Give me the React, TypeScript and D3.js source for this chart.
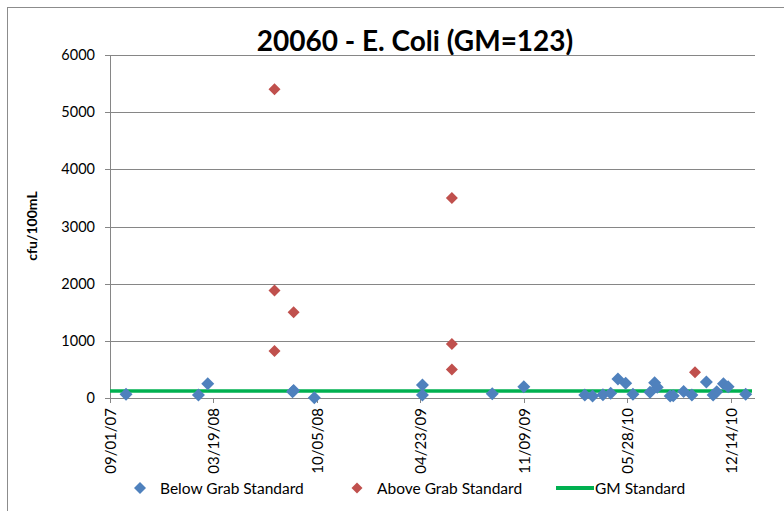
import React, { useEffect } from "react";
import * as d3 from "d3";

const belowDates = [
  "2007-10-02", "2008-02-19", "2008-03-08", "2008-08-21", "2008-08-19", "2008-09-30",
  "2009-04-27", "2009-04-27", "2009-09-09", "2009-11-09",
  "2010-03-07", "2010-03-22", "2010-04-11", "2010-04-26", "2010-05-10", "2010-05-25",
  "2010-06-08", "2010-07-11", "2010-07-20", "2010-07-25", "2010-08-19", "2010-08-25",
  "2010-09-14", "2010-09-30", "2010-10-28", "2010-11-10", "2010-11-17", "2010-11-30",
  "2010-12-09", "2011-01-12",
];
const belowValues = [
  65, 52, 250, 130, 110, 5,
  227, 52, 75, 198,
  52, 35, 58, 82, 332, 257,
  65, 100, 268, 187, 35, 40,
  115, 52, 280, 52, 110, 250,
  198, 65,
];
const aboveDates = [
  "2008-07-15", "2008-07-15", "2008-07-15", "2008-08-21",
  "2009-06-23", "2009-06-23", "2009-06-23", "2010-10-06",
];
const aboveValues = [5400, 1880, 820, 1500, 3500, 945, 500, 450];

const gmValue = 123;
const yTicks = [0, 1000, 2000, 3000, 4000, 5000, 6000];
const xTickLabels = ["09/01/07", "03/19/08", "10/05/08", "04/23/09", "11/09/09", "05/28/10", "12/14/10"];
const domainDates = ["2007-09-01", "2011-01-30"];
const titleText = "20060 - E. Coli (GM=123)";
const yLabel = "cfu/100mL";
const legendLabels = ["Below Grab Standard", "Above Grab Standard", "GM Standard"];

const FONT = "Lato, 'Open Sans', sans-serif";
const BLUE = "#4F81BD";
const RED = "#C0504D";
const GREEN = "#00B050";
const GRID = "#868686";

const parse = d3.timeParse("%Y-%m-%d");
const parseTick = d3.timeParse("%m/%d/%y");

export default function App() {
  useEffect(() => {
    document.body.style.margin = "0";
    document.body.style.overflow = "hidden";
  }, []);

  const W = 784;
  const H = 511;
  const left = 110;
  const right = 755;
  const top = 55;
  const bottom = 398;

  const x = d3.scaleTime().domain(domainDates.map((s) => parse(s) as Date)).range([left, right]);
  const y = d3.scaleLinear().domain([0, 6000]).range([bottom, top]);

  const diamond = (r: number) => `M0,${-r}L${r},0L0,${r}L${-r},0Z`;

  const below = belowDates.map((d, i) => ({ d: parse(d) as Date, v: belowValues[i] }));
  const above = aboveDates.map((d, i) => ({ d: parse(d) as Date, v: aboveValues[i] }));

  return (
    <svg width={W} height={H} style={{ display: "block", background: "#fff" }}>
      <rect x={7.5} y={7.5} width={900} height={700} fill="#fff" stroke="#8c8c8c" strokeWidth={1} />
      <text x={415} y={51} textAnchor="middle" fontFamily={FONT} fontWeight={700} fontSize={28} fill="#000">
        {titleText}
      </text>
      {yTicks.map((t) => (
        <g key={t}>
          {t > 0 && <line x1={left} x2={right} y1={Math.round(y(t)) + 0.5} y2={Math.round(y(t)) + 0.5} stroke={GRID} strokeWidth={1} />}
          <line x1={left - 5} x2={left} y1={Math.round(y(t)) + 0.5} y2={Math.round(y(t)) + 0.5} stroke={GRID} strokeWidth={1} />
          <text x={95} y={y(t) + 5} textAnchor="end" fontFamily={FONT} fontSize={14.5} fill="#000">
            {t}
          </text>
        </g>
      ))}
      <line x1={left + 0.5} x2={left + 0.5} y1={top} y2={bottom} stroke={GRID} strokeWidth={1} />
      <line x1={left} x2={right} y1={bottom + 0.5} y2={bottom + 0.5} stroke={GRID} strokeWidth={1} />
      {xTickLabels.map((lab) => {
        const px = Math.round(x(parseTick(lab) as Date)) + 0.5;
        return (
          <g key={lab}>
            <line x1={px} x2={px} y1={bottom} y2={bottom + 5} stroke={GRID} strokeWidth={1} />
            <text
              transform={`translate(${px + 5.5},${408}) rotate(-90)`}
              textAnchor="end"
              fontFamily={FONT}
              fontSize={15}
              fill="#000"
            >
              {lab}
            </text>
          </g>
        );
      })}
      <text transform={`translate(37,226) rotate(-90)`} textAnchor="middle" fontFamily={FONT} fontWeight={700} fontSize={14} fill="#000">
        {yLabel}
      </text>
      <line x1={left} x2={right - 3} y1={y(gmValue)} y2={y(gmValue)} stroke={GREEN} strokeWidth={3.5} />
      {below.map((p, i) => (
        <path key={"b" + i} d={diamond(6.5)} transform={`translate(${x(p.d)},${y(p.v)})`} fill={BLUE} />
      ))}
      {above.map((p, i) => (
        <path key={"a" + i} d={diamond(6)} transform={`translate(${x(p.d)},${y(p.v)})`} fill={RED} />
      ))}
      <g fontFamily={FONT} fontSize={15.5} fill="#000">
        <path d={diamond(6)} transform="translate(140,488)" fill={BLUE} />
        <text x={160} y={493.5}>{legendLabels[0]}</text>
        <path d={diamond(5.5)} transform="translate(357,488)" fill={RED} />
        <text x={377} y={493.5}>{legendLabels[1]}</text>
        <line x1={556} x2={594} y1={488} y2={488} stroke={GREEN} strokeWidth={4} />
        <text x={595} y={493.5}>{legendLabels[2]}</text>
      </g>
    </svg>
  );
}
